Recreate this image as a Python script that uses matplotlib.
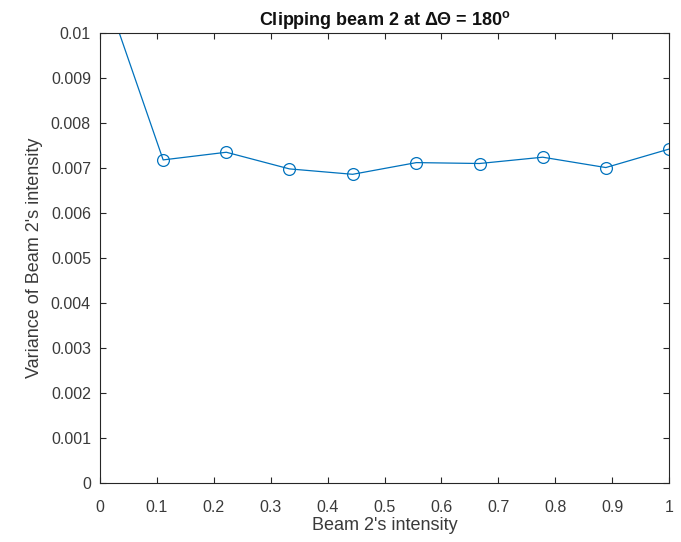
import numpy as np
import matplotlib
matplotlib.use('Agg')
import matplotlib.pyplot as plt

# Beam 2's intensity vs. variance of its intensity
intensity = [0.0, 0.111, 0.222, 0.333, 0.444, 0.556, 0.667, 0.778, 0.889, 1.0]
variance = [0.01124, 0.00718, 0.00735, 0.00698, 0.00686,
            0.00712, 0.00710, 0.00724, 0.00701, 0.00742]

x_ticks = [0, 0.1, 0.2, 0.3, 0.4, 0.5, 0.6, 0.7, 0.8, 0.9, 1]
x_labels = ['0', '0.1', '0.2', '0.3', '0.4', '0.5', '0.6', '0.7', '0.8', '0.9', '1']
y_ticks = [0, 0.001, 0.002, 0.003, 0.004, 0.005, 0.006, 0.007, 0.008, 0.009, 0.01]
y_labels = ['0', '0.001', '0.002', '0.003', '0.004', '0.005', '0.006',
            '0.007', '0.008', '0.009', '0.01']

plt.rcParams['font.family'] = ['Liberation Sans', 'DejaVu Sans']
plt.rcParams['mathtext.fontset'] = 'custom'
plt.rcParams['mathtext.rm'] = 'Liberation Sans:bold'
plt.rcParams['mathtext.it'] = 'Liberation Sans:bold'
plt.rcParams['mathtext.bf'] = 'Liberation Sans:bold'

AX = '#262626'
TXT = '#3a3a3a'
LINE = '#0072BD'

fig = plt.figure(figsize=(6.81, 5.42), dpi=100)
ax = fig.add_axes([100 / 681, 59 / 542, 569 / 681, 450 / 542])

ax.plot(intensity, variance, color=LINE, lw=0.9, marker='o', ms=8.5,
        mfc='none', mec=LINE, mew=0.9)

ax.set_xlim(0, 1)
ax.set_ylim(0, 0.01)
ax.set_xticks(x_ticks)
ax.set_xticklabels(x_labels)
ax.set_yticks(y_ticks)
ax.set_yticklabels(y_labels)

for s in ax.spines.values():
    s.set_color(AX)
    s.set_linewidth(0.8)
ax.tick_params(direction='in', length=4.5, width=0.8, color=AX,
               labelcolor=TXT, labelsize=11.5, top=True, right=True)
ax.tick_params(axis='x', pad=12)
ax.tick_params(axis='y', pad=6.5)

ax.set_xlabel("Beam 2's intensity", fontsize=13, color=TXT, labelpad=2)
ax.set_ylabel("Variance of Beam 2's intensity", fontsize=13, color=TXT,
              labelpad=6)
ax.set_title(r'Clipping beam 2 at $\Delta\Theta$ = 180$^\mathrm{o}$',
             fontsize=13, fontweight='bold', color='#111111', pad=6)

fig.savefig('out.png', dpi=100)
